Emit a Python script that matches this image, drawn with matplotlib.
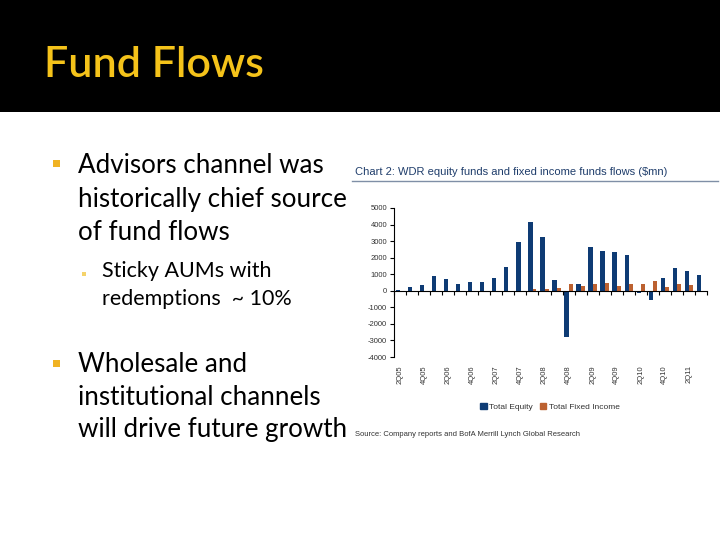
import numpy as np
import matplotlib
matplotlib.use("Agg")
import matplotlib.pyplot as plt
from matplotlib.patches import Rectangle
from matplotlib.lines import Line2D
import matplotlib.transforms as mtransforms

# quarterly flows, $mn, 2Q05 .. 3Q11
quarters = ["2Q05", "3Q05", "4Q05", "1Q06", "2Q06", "3Q06", "4Q06", "1Q07", "2Q07",
            "3Q07", "4Q07", "1Q08", "2Q08", "3Q08", "4Q08", "1Q09", "2Q09", "3Q09",
            "4Q09", "1Q10", "2Q10", "3Q10", "4Q10", "1Q11", "2Q11", "3Q11"]
equity = [60, 250, 370, 920, 730, 430, 510, 510, 800, 1410, 2960, 4180, 3240, 630,
          -2800, 430, 2630, 2390, 2330, 2140, -160, -570, 800, 1350, 1220, 980]
fixed_income = [-50, 0, 0, 0, -60, 0, 0, 0, 0, 0, 0, 120, 120, 180,
                430, 300, 430, 490, 300, 430, 430, 610, 240, 430, 370, 0]
yticks = [5000, 4000, 3000, 2000, 1000, 0, -1000, -2000, -3000, -4000]

W, H = 720, 540
fig = plt.figure(figsize=(7.2, 5.4), dpi=100)
fig.patch.set_facecolor("white")

def fx(x):
    return x / W

def fy(y):
    return 1 - y / H

# black header band
fig.patches.append(Rectangle((0, fy(112)), 1, 112 / H, transform=fig.transFigure,
                             facecolor="black", edgecolor="none", zorder=0))
fig.text(fx(44), fy(77), "Fund Flows", color="#F5C31A", fontsize=31,
         family="Lato", weight="semibold", va="baseline", ha="left")

# bullets
gold = "#F0B323"
body = dict(family="Lato", color="black", va="baseline", ha="left")
lines1 = [("Advisors channel was", 173), ("historically chief source", 207),
          ("of fund flows", 240)]
for t, y in lines1:
    fig.text(fx(78), fy(y), t, fontsize=18.7, **body)
fig.patches.append(Rectangle((fx(53), fy(167)), 7 / W, 7 / H, transform=fig.transFigure,
                             facecolor=gold, edgecolor="none"))
for t, y in [("Sticky AUMs with", 277), ("redemptions  ~ 10%", 305)]:
    fig.text(fx(102), fy(y), t, fontsize=15.5, **body)
fig.patches.append(Rectangle((fx(82), fy(276)), 4 / W, 4 / H, transform=fig.transFigure,
                             facecolor="#F5D36A", edgecolor="none"))
lines2 = [("Wholesale and", 372), ("institutional channels", 405),
          ("will drive future growth", 437)]
for t, y in lines2:
    fig.text(fx(78), fy(y), t, fontsize=18.7, **body)
fig.patches.append(Rectangle((fx(53), fy(367)), 7 / W, 7 / H, transform=fig.transFigure,
                             facecolor=gold, edgecolor="none"))

# embedded chart
narrow = ["Liberation Sans Narrow", "Liberation Sans", "DejaVu Sans"]
navy = "#0E3B74"
orange = "#BC6130"
fig.text(fx(355), fy(172), "Chart 2: WDR equity funds and fixed income funds flows ($mn)",
         fontsize=8, family=narrow, color="#1F3D6B", va="center", ha="left")
fig.add_artist(Line2D([fx(352), fx(718)], [fy(181), fy(181)], transform=fig.transFigure,
                      color="#7F8FA6", lw=1))

ax = fig.add_axes([fx(394), fy(357), fx(707) - fx(394), (357 - 208) / H])
x = np.arange(len(quarters))
ax.bar(x - 0.17, equity, width=0.36, color=navy, label="Total Equity")
ax.bar(x + 0.17, fixed_income, width=0.33, color=orange, label="Total Fixed Income")
ax.set_xlim(-0.5, len(quarters) - 0.5)
ax.set_ylim(-4000, 5000)
ax.set_yticks(yticks)
ax.set_yticklabels([str(v) for v in yticks], fontsize=5.5, family=narrow, color="#333333")
ax.tick_params(axis="y", direction="out", length=3, width=0.8, pad=2)
for s in ["top", "right"]:
    ax.spines[s].set_visible(False)
ax.spines["bottom"].set_position(("data", 0))
ax.spines["left"].set_linewidth(0.8)
ax.spines["bottom"].set_linewidth(0.8)
ax.set_xticks(np.arange(len(quarters) + 1) - 0.5)
ax.set_xticklabels([])
ax.tick_params(axis="x", direction="out", length=3, width=0.8)

trans = mtransforms.blended_transform_factory(ax.transData, ax.transAxes)
for i in range(0, len(quarters), 2):
    ax.text(i, -0.055, quarters[i], transform=trans, rotation=90, ha="center", va="top",
            fontsize=5.5, family=narrow, color="#333333")

handles = [Rectangle((0, 0), 1, 1, color=navy), Rectangle((0, 0), 1, 1, color=orange)]
fig.legend(handles, ["Total Equity", "Total Fixed Income"], loc="center",
           bbox_to_anchor=(fx(550), fy(407)), ncol=2, frameon=False,
           prop={"family": narrow, "size": 6}, handlelength=0.8, handleheight=0.8,
           handletextpad=0.3, columnspacing=0.8, labelcolor="#333333")

fig.text(fx(355), fy(434), "Source: Company reports and BofA Merrill Lynch Global Research",
         fontsize=5.5, family=narrow, color="#333333", va="center", ha="left")

fig.savefig("out.png", dpi=100)
